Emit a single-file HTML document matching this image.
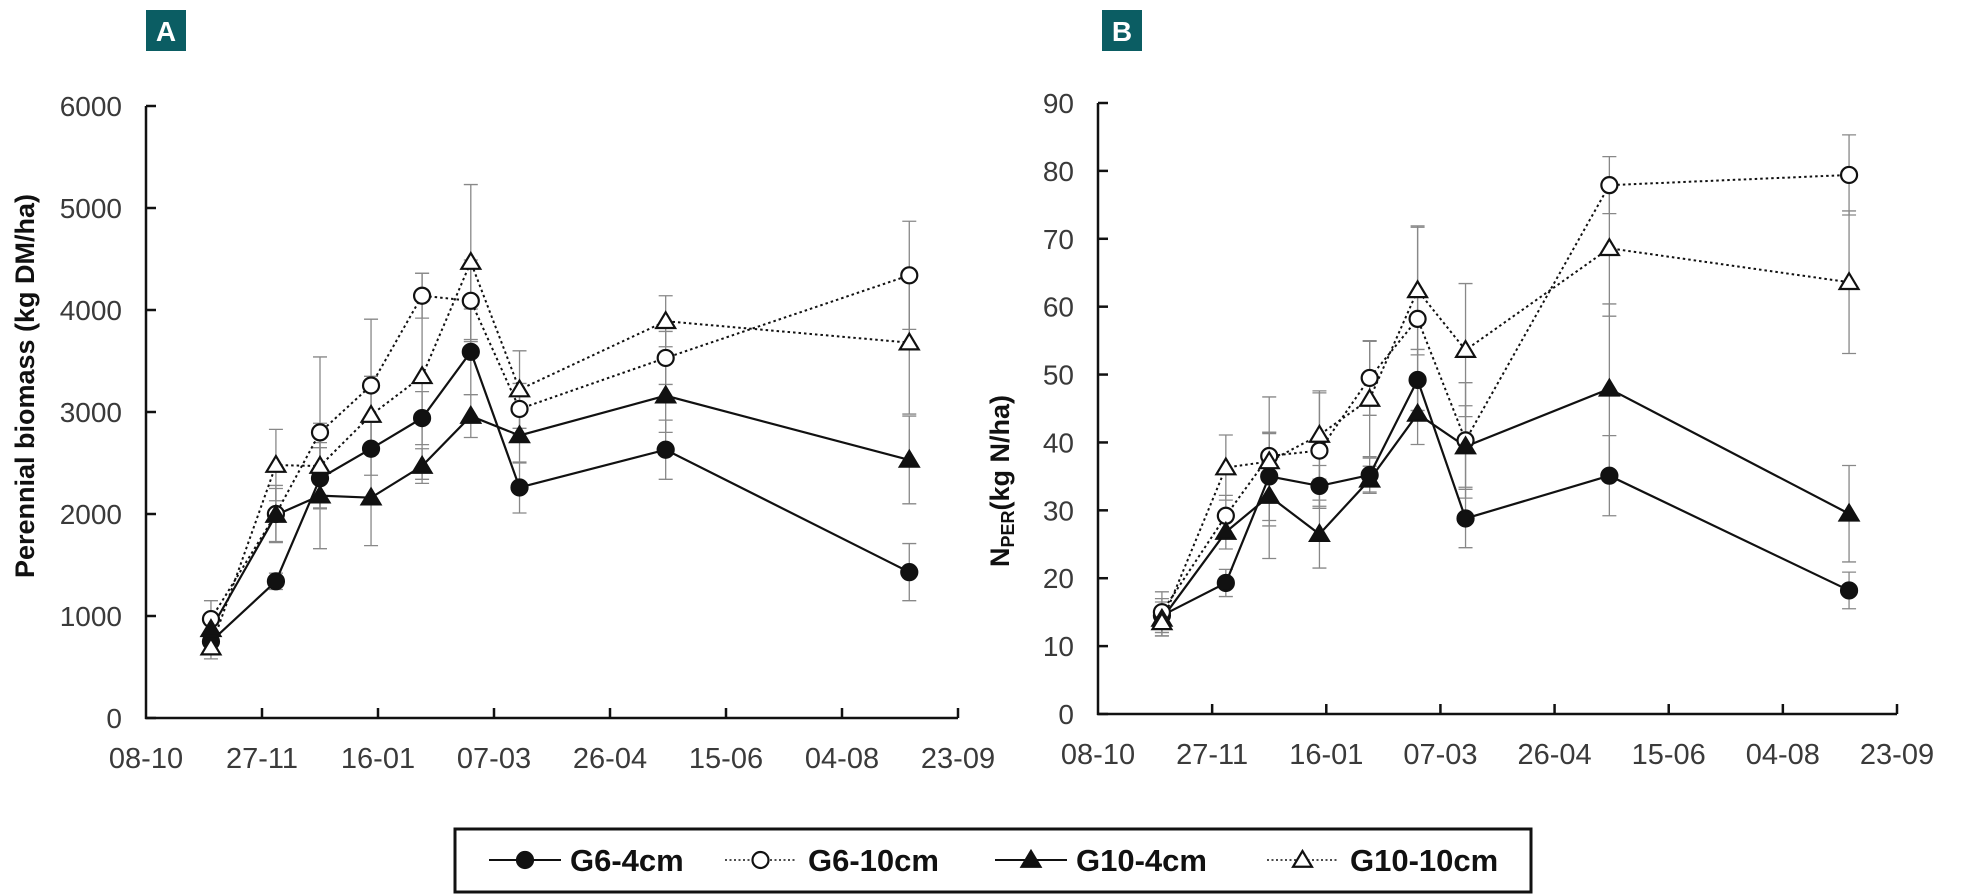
<!DOCTYPE html>
<html><head><meta charset="utf-8"><style>
body{margin:0;background:#fff;width:1962px;height:896px;overflow:hidden}
svg{display:block}
</style></head><body>
<svg id="fig" width="1962" height="896" viewBox="0 0 1962 896" xmlns="http://www.w3.org/2000/svg" font-family="'Liberation Sans', sans-serif"></svg>
<script>
const days = [28, 56, 75, 97, 119, 140, 161, 224, 329];
const xTickLabels = ["08-10","27-11","16-01","07-03","26-04","15-06","04-08","23-09"];
const seriesNames = ["G6-4cm","G6-10cm","G10-4cm","G10-10cm"];
// Panel A: perennial biomass
const aG64 = [750, 1340, 2350, 2640, 2940, 3590, 2260, 2630, 1430];
const aG610 = [970, 2000, 2800, 3260, 4140, 4090, 3030, 3530, 4340];
const aG104 = [870, 1990, 2180, 2160, 2470, 2960, 2770, 3160, 2530];
const aG1010 = [690, 2480, 2470, 2970, 3350, 4470, 3220, 3890, 3680];
const aErrG64 = [90, 80, 300, 260, 260, 420, 250, 290, 280];
const aErrG610 = [180, 280, 740, 650, 220, 400, 250, 260, 530];
const aErrG104 = [100, 260, 520, 470, 170, 210, 270, 360, 430];
const aErrG1010 = [110, 350, 420, 380, 1010, 760, 380, 250, 700];
const aYTicks = [0,1000,2000,3000,4000,5000,6000];
// Panel B: N in perennial organs
const bG64 = [14.5, 19.3, 35.0, 33.6, 35.2, 49.2, 28.8, 35.1, 18.2];
const bG610 = [15.0, 29.2, 38.0, 38.8, 49.5, 58.2, 40.3, 77.9, 79.4];
const bG104 = [14.0, 26.8, 32.1, 26.5, 34.5, 44.2, 39.4, 47.9, 29.5];
const bG1010 = [13.5, 36.3, 37.2, 41.1, 46.4, 62.4, 53.6, 68.6, 63.6];
const bErrG64 = [2.5, 2.0, 6.5, 3.0, 2.5, 4.5, 4.3, 5.9, 2.7];
const bErrG610 = [3.0, 3.0, 3.5, 8.5, 5.5, 13.5, 8.5, 4.2, 5.9];
const bErrG104 = [2.5, 2.5, 9.2, 5.0, 2.0, 4.5, 6.0, 12.5, 7.1];
const bErrG1010 = [2.0, 4.8, 9.5, 6.5, 8.5, 9.5, 9.8, 10.0, 10.5];
const bYTicks = [0,10,20,30,40,50,60,70,80,90];

const NS="http://www.w3.org/2000/svg";
const svg=document.getElementById('fig');
function el(tag,attrs,parent){const e=document.createElementNS(NS,tag);for(const k in attrs)e.setAttribute(k,attrs[k]);(parent||svg).appendChild(e);return e;}

function marker(g,kind,x,y){
  const fill=(kind===0||kind===2)?'#111':'#fff';
  let m;
  if(kind<2){m=el('circle',{cx:x,cy:y,r:8,fill:fill,stroke:'#111','stroke-width':2.2},g);}
  else{const s=9;m=el('polygon',{points:`${x},${y-s} ${x-s*1.05},${y+s*0.75} ${x+s*1.05},${y+s*0.75}`,fill:fill,stroke:'#111','stroke-width':2.2},g);}
  return m;
}

function panel(cfg){
  const g=el('g',{});
  
  
  const X=d=>cfg.x0+(cfg.x1-cfg.x0)*d/350;
  const Y=v=>cfg.y0-(cfg.y0-cfg.yTop)*v/cfg.yMax;
  const ax=el('line',{x1:cfg.x0,y1:cfg.yTop,x2:cfg.x0,y2:cfg.y0+1,stroke:'#111','stroke-width':2.5},g);
  
  const bx=el('line',{x1:cfg.x0-1,y1:cfg.y0,x2:cfg.x1,y2:cfg.y0,stroke:'#111','stroke-width':2.5},g);
  
  cfg.yTicks.forEach(v=>{
    el('line',{x1:cfg.x0,y1:Y(v),x2:cfg.x0+10,y2:Y(v),stroke:'#111','stroke-width':2.5},g);
    const t=el('text',{x:cfg.x0-24,y:Y(v)+10,'text-anchor':'end','font-size':28,fill:'#3a3a3a'},g);
    t.textContent=v;
    
  });
  xTickLabels.forEach((lab,i)=>{
    const x=X(i*50);
    if(i>0)el('line',{x1:x,y1:cfg.y0,x2:x,y2:cfg.y0-10,stroke:'#111','stroke-width':2.5},g);
    const t=el('text',{x:x,y:cfg.y0+50,'text-anchor':'middle','font-size':29,fill:'#3a3a3a'},g);
    t.textContent=lab;
    
  });
  cfg.series.forEach((s,si)=>{
    s.v.forEach((v,i)=>{
      const x=X(days[i]),a=Y(v+s.e[i]),b=Y(Math.max(0,v-s.e[i]));
      const eb=el('path',{d:`M${x},${a}V${b}M${x-7},${a}H${x+7}M${x-7},${b}H${x+7}`,stroke:'#888','stroke-width':1.3,fill:'none'},g);
      
    });
  });
  cfg.series.forEach((s,si)=>{
    const d=s.v.map((v,i)=>(i?'L':'M')+X(days[i])+','+Y(v)).join('');
    const dotted=(si%2===1);
    const p=el('path',{d:d,fill:'none',stroke:'#111','stroke-width':dotted?2:2.2,'stroke-dasharray':dotted?'2.5 3':'none'},g);
    
    
  });
  cfg.series.forEach((s,si)=>{
    s.v.forEach((v,i)=>{
      const m=marker(g,si,X(days[i]),Y(v));
      
      
    });
  });
  const r=el('rect',{x:cfg.boxX,y:10,width:40,height:41,fill:'#0b5d63'},g);
  
  const lt=el('text',{x:cfg.boxX+20,y:41,'text-anchor':'middle','font-size':28,'font-weight':'bold',fill:'#fff'},g);
  lt.textContent=cfg.label;
  
}

panel({name:'panel-a',label:'A',boxX:146,x0:146,x1:958,yTop:106,y0:718,yMax:6000,yTicks:aYTicks,
  series:[{v:aG64,e:aErrG64},{v:aG610,e:aErrG610},{v:aG104,e:aErrG104},{v:aG1010,e:aErrG1010}]});
panel({name:'panel-b',label:'B',boxX:1102,x0:1098,x1:1897,yTop:103,y0:714,yMax:90,yTicks:bYTicks,
  series:[{v:bG64,e:bErrG64},{v:bG610,e:bErrG610},{v:bG104,e:bErrG104},{v:bG1010,e:bErrG1010}]});

const ta=el('text',{x:0,y:0,transform:'translate(34,386) rotate(-90)','text-anchor':'middle','font-size':27,'font-weight':'bold',fill:'#111'});
ta.textContent='Perennial biomass (kg DM/ha)';

const tb=el('text',{x:0,y:0,transform:'translate(1009,481) rotate(-90)','text-anchor':'middle','font-size':27,'font-weight':'bold',fill:'#111'});

const t1=el('tspan',{},tb);t1.textContent='N';
const t2=el('tspan',{'font-size':18,dy:5},tb);t2.textContent='PER';
const t3=el('tspan',{dy:-5},tb);t3.textContent='(kg N/ha)';

const lg=el('g',{});

el('rect',{x:455,y:829,width:1076,height:63,fill:'#fff',stroke:'#111','stroke-width':3},lg);
const legX=[[489,561,570],[725,796,808],[995,1067,1076],[1267,1338,1350]];
seriesNames.forEach((n,i)=>{
  const [a,b,tx]=legX[i];
  const it=el('g',{},lg);
  
  
  const dotted=i%2===1;
  el('line',{x1:a,y1:860,x2:b,y2:860,stroke:'#111','stroke-width':dotted?1.5:2,'stroke-dasharray':dotted?'2 2.5':'none'},it);
  marker(it,i,(a+b)/2,860);
  const t=el('text',{x:tx,y:871,'font-size':31,'font-weight':'bold',fill:'#111'},it);
  t.textContent=n;
});
</script>
</body></html>
